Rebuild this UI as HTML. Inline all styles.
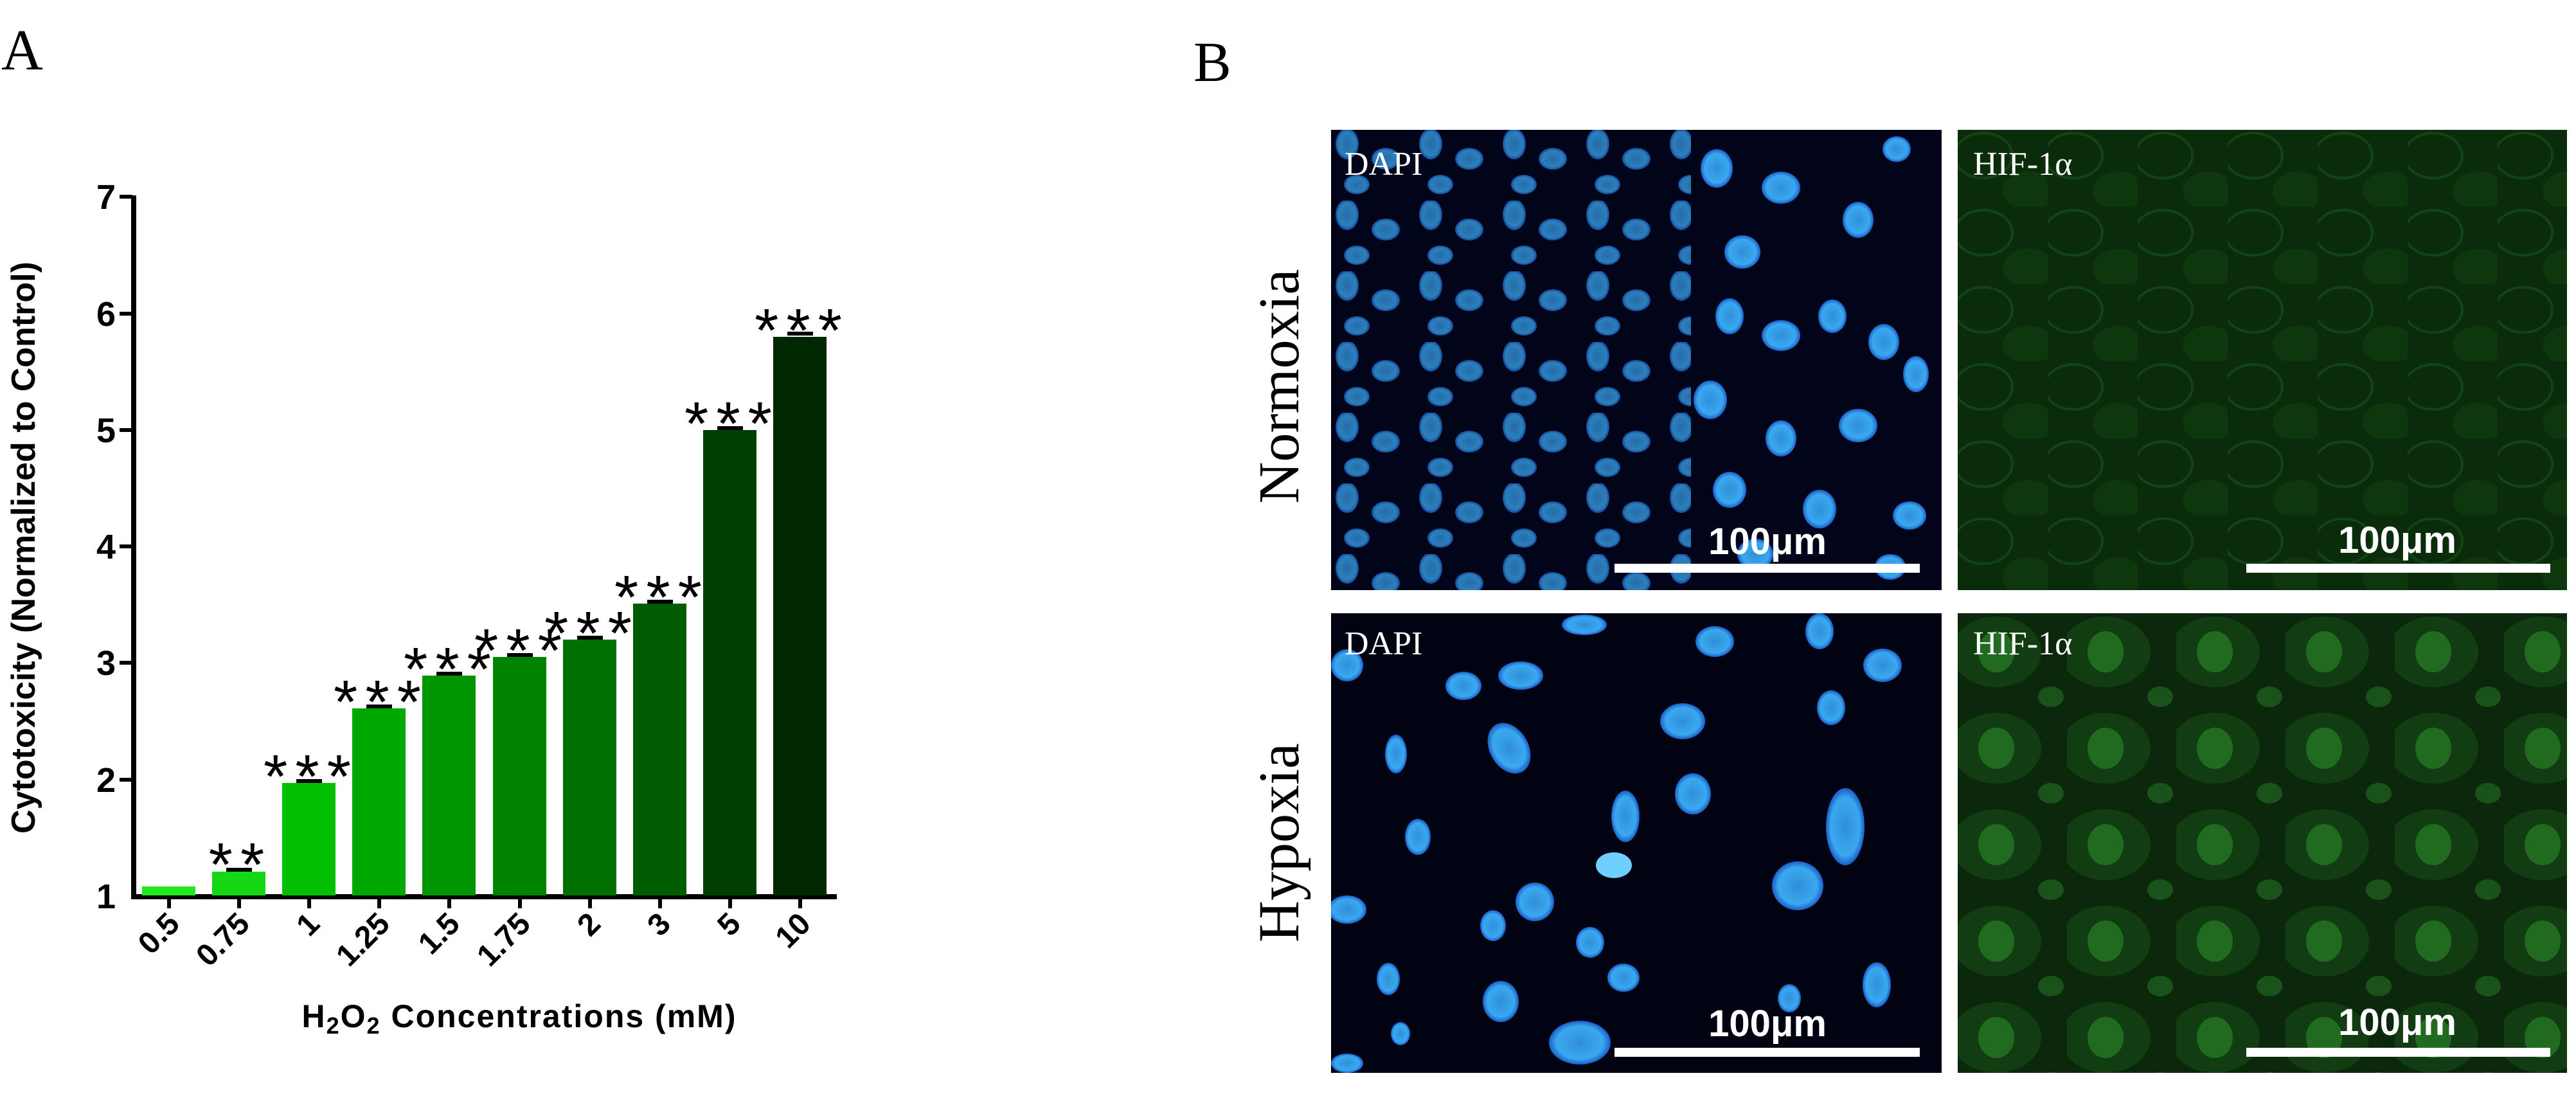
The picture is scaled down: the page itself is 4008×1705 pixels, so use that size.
<!DOCTYPE html>
<html><head><meta charset="utf-8"><style>
html,body{margin:0;padding:0;background:#fff;}
svg{display:block;}
</style></head><body>
<svg width="4008" height="1705" viewBox="0 0 4008 1705" xmlns="http://www.w3.org/2000/svg">
<defs>
<radialGradient id="nb" cx="50%" cy="50%" r="50%">
<stop offset="0" stop-color="#2f8fd8"/><stop offset="0.75" stop-color="#3aa8f0"/><stop offset="1" stop-color="#1a5ec8"/>
</radialGradient>
<pattern id="dense" x="0" y="0" width="130" height="110" patternUnits="userSpaceOnUse">
<ellipse cx="25" cy="22" rx="18" ry="24" fill="url(#nb)"/>
<ellipse cx="85" cy="45" rx="22" ry="17" fill="url(#nb)"/>
<ellipse cx="40" cy="85" rx="20" ry="15" fill="url(#nb)"/>
</pattern>
<pattern id="gtex" x="0" y="0" width="140" height="120" patternUnits="userSpaceOnUse">
<ellipse cx="40" cy="40" rx="45" ry="35" fill="none" stroke="#1a5a1a" stroke-width="4" opacity="0.5"/>
<ellipse cx="110" cy="95" rx="40" ry="30" fill="#124812" opacity="0.4"/>
</pattern>
<pattern id="gtex2" x="0" y="0" width="170" height="150" patternUnits="userSpaceOnUse">
<ellipse cx="60" cy="60" rx="70" ry="55" fill="#164a16" opacity="0.6"/>
<ellipse cx="60" cy="60" rx="28" ry="32" fill="#2c8a2c" opacity="0.6"/>
<ellipse cx="145" cy="130" rx="20" ry="16" fill="#237023" opacity="0.6"/>
</pattern>
</defs>

<text x="2" y="108" font-family="Liberation Serif, serif" font-size="90" fill="#000">A</text>

<g fill="#000" font-family="Liberation Sans, sans-serif" font-weight="bold">
<rect x="204" y="304" width="8" height="1094"/>
<rect x="204" y="1391" width="1098" height="8"/>
<rect x="186" y="303" width="20" height="6"/>
<rect x="186" y="485" width="20" height="6"/>
<rect x="186" y="666" width="20" height="6"/>
<rect x="186" y="847" width="20" height="6"/>
<rect x="186" y="1028" width="20" height="6"/>
<rect x="186" y="1210" width="20" height="6"/>
<g font-size="54" text-anchor="end">
<text x="180" y="325">7</text>
<text x="180" y="507">6</text>
<text x="180" y="688">5</text>
<text x="180" y="869">4</text>
<text x="180" y="1050">3</text>
<text x="180" y="1232">2</text>
<text x="180" y="1413">1</text>
</g>
<text transform="translate(54,852) rotate(-90)" text-anchor="middle" font-size="52">Cytotoxicity (Normalized to Control)</text>
<text x="808" y="1598" text-anchor="middle" font-size="50" letter-spacing="2">H<tspan font-size="36" dy="10">2</tspan><tspan dy="-10">O</tspan><tspan font-size="36" dy="10">2</tspan><tspan dy="-10"> Concentrations (mM)</tspan></text>
</g>

<rect x="221" y="1379" width="83" height="14" fill="#22e822"/>
<rect x="330" y="1356" width="83" height="37" fill="#14d814"/>
<rect x="439" y="1218" width="83" height="175" fill="#04c004"/>
<rect x="548" y="1102" width="83" height="291" fill="#02a802"/>
<rect x="657" y="1051" width="83" height="342" fill="#019601"/>
<rect x="767" y="1022" width="83" height="371" fill="#018401"/>
<rect x="876" y="995" width="83" height="398" fill="#007000"/>
<rect x="985" y="939" width="83" height="454" fill="#005c00"/>
<rect x="1094" y="669" width="83" height="724" fill="#003f00"/>
<rect x="1203" y="524" width="83" height="869" fill="#012801"/>
<g fill="#000">
<rect x="352" y="1350" width="40" height="6"/>
<rect x="461" y="1212" width="40" height="6"/>
<rect x="570" y="1096" width="40" height="6"/>
<rect x="679" y="1045" width="40" height="6"/>
<rect x="789" y="1016" width="40" height="6"/>
<rect x="898" y="989" width="40" height="6"/>
<rect x="1007" y="933" width="40" height="6"/>
<rect x="1116" y="663" width="40" height="6"/>
<rect x="1225" y="516" width="40" height="6"/>
</g>
<g fill="#000">
<rect x="260" y="1397" width="6" height="16"/>
<rect x="369" y="1397" width="6" height="16"/>
<rect x="478" y="1397" width="6" height="16"/>
<rect x="587" y="1397" width="6" height="16"/>
<rect x="696" y="1397" width="6" height="16"/>
<rect x="806" y="1397" width="6" height="16"/>
<rect x="915" y="1397" width="6" height="16"/>
<rect x="1024" y="1397" width="6" height="16"/>
<rect x="1133" y="1397" width="6" height="16"/>
<rect x="1242" y="1397" width="6" height="16"/>
</g>
<g font-family="Liberation Sans, sans-serif" font-weight="bold" font-size="48" text-anchor="end" fill="#000">
<text transform="translate(282,1440) rotate(-45)">0.5</text>
<text transform="translate(391,1440) rotate(-45)">0.75</text>
<text transform="translate(500,1440) rotate(-45)">1</text>
<text transform="translate(609,1440) rotate(-45)">1.25</text>
<text transform="translate(718,1440) rotate(-45)">1.5</text>
<text transform="translate(828,1440) rotate(-45)">1.75</text>
<text transform="translate(937,1440) rotate(-45)">2</text>
<text transform="translate(1046,1440) rotate(-45)">3</text>
<text transform="translate(1155,1440) rotate(-45)">5</text>
<text transform="translate(1264,1440) rotate(-45)">10</text>
</g>
<g font-family="Liberation Sans, sans-serif" font-size="96" text-anchor="middle" fill="#000" letter-spacing="12">
<text x="374" y="1378">**</text>
<text x="484" y="1241">***</text>
<text x="593" y="1125">***</text>
<text x="702" y="1074">***</text>
<text x="812" y="1045">***</text>
<text x="921" y="1018">***</text>
<text x="1030" y="962">***</text>
<text x="1139" y="692">***</text>
<text x="1248" y="547">***</text>
</g>

<text x="1857" y="126" font-family="Liberation Serif, serif" font-size="88" fill="#000">B</text>
<text transform="translate(2020,601) rotate(-90)" text-anchor="middle" font-family="Liberation Serif, serif" font-size="90" fill="#000">Normoxia</text>
<text transform="translate(2020,1311) rotate(-90)" text-anchor="middle" font-family="Liberation Serif, serif" font-size="90" fill="#000">Hypoxia</text>

<svg x="2071" y="202" width="950" height="716" viewBox="0 0 950 716">
<rect width="950" height="716" fill="#02051a"/>
<rect x="0" y="0" width="560" height="716" fill="url(#dense)" opacity="0.75"/>
<g fill="url(#nb)">
<ellipse cx="600" cy="60" rx="25" ry="30"/><ellipse cx="700" cy="90" rx="30" ry="25"/><ellipse cx="820" cy="140" rx="24" ry="28"/>
<ellipse cx="880" cy="30" rx="22" ry="20"/><ellipse cx="640" cy="190" rx="28" ry="26"/><ellipse cx="860" cy="330" rx="24" ry="28"/>
<ellipse cx="620" cy="290" rx="22" ry="28"/><ellipse cx="700" cy="320" rx="30" ry="24"/><ellipse cx="780" cy="290" rx="22" ry="26"/>
<ellipse cx="590" cy="420" rx="26" ry="30"/><ellipse cx="700" cy="480" rx="24" ry="28"/><ellipse cx="820" cy="460" rx="30" ry="26"/>
<ellipse cx="910" cy="380" rx="20" ry="28"/><ellipse cx="620" cy="560" rx="26" ry="28"/><ellipse cx="760" cy="590" rx="26" ry="30"/>
<ellipse cx="900" cy="600" rx="26" ry="22"/><ellipse cx="660" cy="660" rx="28" ry="24"/><ellipse cx="870" cy="680" rx="24" ry="20"/>
</g>
</svg>
<svg x="3046" y="202" width="948" height="716" viewBox="0 0 948 716">
<rect width="948" height="716" fill="#0b2c0b"/>
<rect width="948" height="716" fill="url(#gtex)"/>
</svg>
<svg x="2071" y="954" width="950" height="715" viewBox="0 0 950 715">
<rect width="950" height="715" fill="#010312"/>
<g fill="url(#nb)">
<ellipse cx="394" cy="18" rx="35" ry="16"/><ellipse cx="597" cy="44" rx="30" ry="24"/><ellipse cx="760" cy="28" rx="22" ry="28"/>
<ellipse cx="858" cy="81" rx="30" ry="26"/><ellipse cx="25" cy="81" rx="25" ry="25"/><ellipse cx="206" cy="113" rx="28" ry="22"/>
<ellipse cx="295" cy="97" rx="35" ry="22"/><ellipse cx="547" cy="168" rx="35" ry="28"/><ellipse cx="778" cy="147" rx="22" ry="27"/>
<ellipse cx="277" cy="210" rx="30" ry="42" transform="rotate(-30 277 210)"/><ellipse cx="101" cy="219" rx="17" ry="30"/>
<ellipse cx="563" cy="281" rx="28" ry="32"/><ellipse cx="458" cy="316" rx="22" ry="40"/><ellipse cx="800" cy="332" rx="30" ry="60"/>
<ellipse cx="135" cy="348" rx="20" ry="28"/><ellipse cx="440" cy="392" rx="28" ry="20" fill="#6fd0ff"/>
<ellipse cx="726" cy="424" rx="40" ry="38"/><ellipse cx="25" cy="461" rx="30" ry="22"/><ellipse cx="317" cy="449" rx="30" ry="30"/>
<ellipse cx="252" cy="486" rx="20" ry="24"/><ellipse cx="403" cy="512" rx="22" ry="24"/><ellipse cx="89" cy="569" rx="18" ry="25"/>
<ellipse cx="455" cy="567" rx="25" ry="22"/><ellipse cx="849" cy="578" rx="22" ry="35"/><ellipse cx="713" cy="599" rx="18" ry="22"/>
<ellipse cx="264" cy="604" rx="28" ry="32"/><ellipse cx="108" cy="654" rx="15" ry="18"/><ellipse cx="387" cy="668" rx="48" ry="34"/>
<ellipse cx="25" cy="700" rx="25" ry="15"/>
</g>
</svg>
<svg x="3046" y="954" width="948" height="715" viewBox="0 0 948 715">
<rect width="948" height="715" fill="#0c280c"/>
<rect width="948" height="715" fill="url(#gtex2)"/>
</svg>

<g fill="#fff">
<rect x="2512" y="877" width="475" height="14"/>
<rect x="3495" y="877" width="473" height="14"/>
<rect x="2512" y="1630" width="475" height="14"/>
<rect x="3495" y="1630" width="473" height="14"/>
</g>
<g font-family="Liberation Sans, sans-serif" font-weight="bold" font-size="58" fill="#fff" text-anchor="middle">
<text x="2750" y="862">100μm</text>
<text x="3730" y="860">100μm</text>
<text x="2750" y="1612">100μm</text>
<text x="3730" y="1610">100μm</text>
</g>
<g font-family="Liberation Serif, serif" font-size="52" fill="#fff">
<text x="2092" y="272">DAPI</text>
<text x="3070" y="272">HIF-1α</text>
<text x="2092" y="1018">DAPI</text>
<text x="3070" y="1018">HIF-1α</text>
</g>
</svg>
</body></html>
